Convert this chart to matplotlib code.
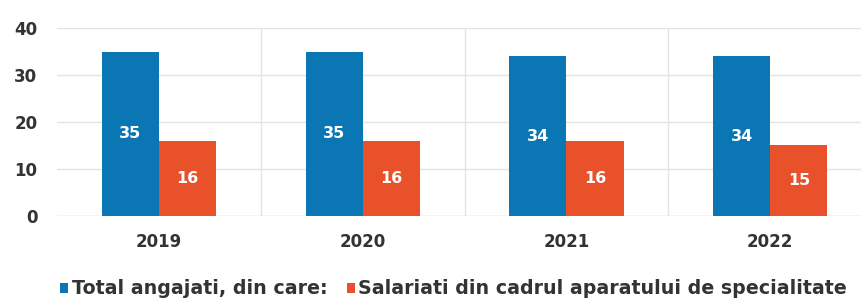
import numpy as np
import matplotlib.pyplot as plt

ani = ['2019', '2020', '2021', '2022']
total = [35, 35, 34, 34]
salariati = [16, 16, 16, 15]
nume_total = 'Total angajati, din care:'
nume_sal = 'Salariati din cadrul aparatului de specialitate'

plt.rcParams['font.family'] = ['DejaVu Sans']

fig = plt.figure(figsize=(8.62, 3.02), dpi=100)
ax = fig.add_axes([0.066, 0.285, 0.934, 0.622])

x = np.arange(len(ani))
w = 0.28
b1 = ax.bar(x - w/2, total, w, color='#0b76b4', label=nume_total, zorder=3)
b2 = ax.bar(x + w/2, salariati, w, color='#e9512b', label=nume_sal, zorder=3)
ax.bar_label(b1, label_type='center', color='white', fontsize=11.5, fontweight='bold')
ax.bar_label(b2, label_type='center', color='white', fontsize=11.5, fontweight='bold')

ax.set_ylim(0, 40)
ax.set_yticks([0, 10, 20, 30, 40])
ax.set_xlim(-0.5, 3.45)
ax.set_xticks(x)
ax.set_xticklabels(ani)
# linii verticale intre categorii
ax.set_xticks(x[:-1] + 0.5, minor=True)
ax.grid(axis='y', color='#e4e4e4', lw=1, zorder=0)
ax.grid(axis='x', which='minor', color='#e4e4e4', lw=1, zorder=0)
ax.tick_params(axis='both', which='both', length=0, labelsize=12, colors='#333333')
ax.tick_params(axis='x', pad=12)
ax.tick_params(axis='y', pad=14)
for lab in ax.get_xticklabels() + ax.get_yticklabels():
    lab.set_fontweight('bold')
for s in ax.spines.values():
    s.set_visible(False)
ax.axhline(0, color='#e4e4e4', lw=1, zorder=1)

leg = fig.legend(loc='lower left', bbox_to_anchor=(0.05, -0.045), ncol=2, frameon=False,
                 prop={'size': 13.7, 'weight': 'bold'}, handlelength=0.42, handleheight=0.42,
                 handletextpad=0.2, columnspacing=1.0, labelcolor='#333333')

fig.savefig('out.png', dpi=100)
